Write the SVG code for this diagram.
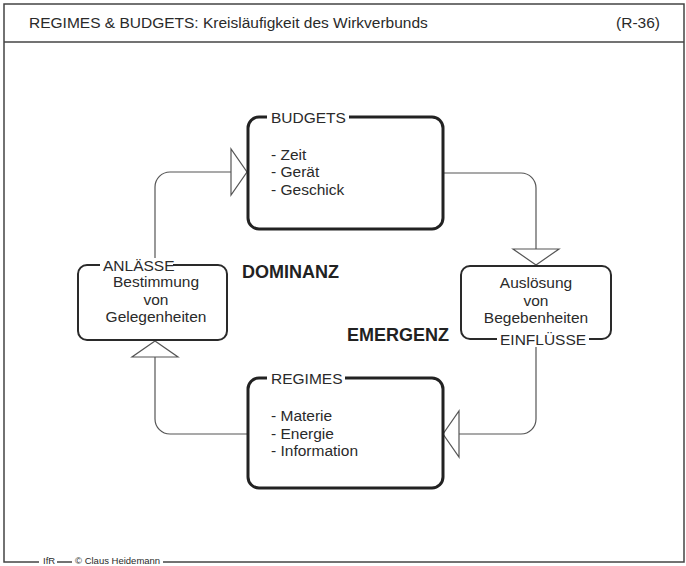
<svg xmlns="http://www.w3.org/2000/svg" width="686" height="566" viewBox="0 0 686 566">
<style>
text{font-family:"Liberation Sans",Arial,Helvetica,sans-serif;fill:#2a2a2a}
.t{font-size:15.5px}
.f{font-size:9.5px}
.b{font-size:18px;font-weight:bold;fill:#222}
.big{fill:#fff;stroke:#222;stroke-width:3}
.sm{fill:#fff;stroke:#2a2a2a;stroke-width:2}
.ln{fill:none;stroke:#555;stroke-width:1.2}
.tri{fill:#fff;stroke:#555;stroke-width:1.2;stroke-linejoin:miter}
.frame{fill:none;stroke:#444;stroke-width:1.5}
.bg{fill:#fff}
.c{text-anchor:middle}
</style>
<g id="frame">
<rect class="frame" x="4" y="4" width="680" height="558"/>
<line class="frame" x1="4" y1="42" x2="684" y2="42"/>
<text class="t" x="29" y="28">REGIMES &amp; BUDGETS: Kreisläufigkeit des Wirkverbunds</text>
<text class="t" x="660" y="28" text-anchor="end">(R-36)</text>
<rect class="bg" x="39" y="555" width="124" height="11"/>
<line class="frame" x1="57" y1="562" x2="72" y2="562"/>
<text class="f" x="43" y="564">IfR</text>
<text class="f" x="75" y="564">© Claus Heidemann</text>
</g>
<g id="connectors">
<path class="ln" d="M155 265 V187 A15 15 0 0 1 170 172 H231"/>
<polygon class="tri" points="231,149 231,195 247,172"/>
<path class="ln" d="M443 173 H521 A15 15 0 0 1 536 188 V249"/>
<polygon class="tri" points="513,249 559,249 536,265"/>
<path class="ln" d="M536 347 V419 A15 15 0 0 1 521 434 H459"/>
<polygon class="tri" points="459,411 459,457 443,434"/>
<path class="ln" d="M248 434 H170 A15 15 0 0 1 155 419 V357"/>
<polygon class="tri" points="132,357 178,357 155,341"/>
</g>
<g id="budgets">
<rect class="big" x="248" y="117" width="195" height="112" rx="11"/>
<rect class="bg" x="267" y="110" width="82" height="14"/>
<text class="t" x="271" y="122.5">BUDGETS</text>
<text class="t" x="271" y="159.5">- Zeit</text>
<text class="t" x="271" y="177">- Gerät</text>
<text class="t" x="271" y="194.5">- Geschick</text>
</g>
<g id="regimes">
<rect class="big" x="248" y="378" width="195" height="110" rx="11"/>
<rect class="bg" x="267" y="371" width="78" height="14"/>
<text class="t" x="271" y="383.5">REGIMES</text>
<text class="t" x="271" y="421">- Materie</text>
<text class="t" x="271" y="438.5">- Energie</text>
<text class="t" x="271" y="456">- Information</text>
</g>
<g id="anlaesse">
<rect class="sm" x="78" y="265" width="149" height="75" rx="9"/>
<rect class="bg" x="100" y="258" width="73" height="14"/>
<text class="t" x="103" y="270.5">ANLÄSSE</text>
<text class="t c" x="156" y="287">Bestimmung</text>
<text class="t c" x="156" y="305">von</text>
<text class="t c" x="156" y="322">Gelegenheiten</text>
</g>
<g id="einfluesse">
<rect class="sm" x="461" y="266" width="150" height="73" rx="9"/>
<rect class="bg" x="497" y="332" width="92" height="14"/>
<text class="t" x="500" y="344.5">EINFLÜSSE</text>
<text class="t c" x="536" y="288">Auslösung</text>
<text class="t c" x="536" y="306">von</text>
<text class="t c" x="536" y="323">Begebenheiten</text>
</g>
<g id="labels">
<text class="b" x="242" y="278">DOMINANZ</text>
<text class="b" x="347" y="341">EMERGENZ</text>
</g>
</svg>
